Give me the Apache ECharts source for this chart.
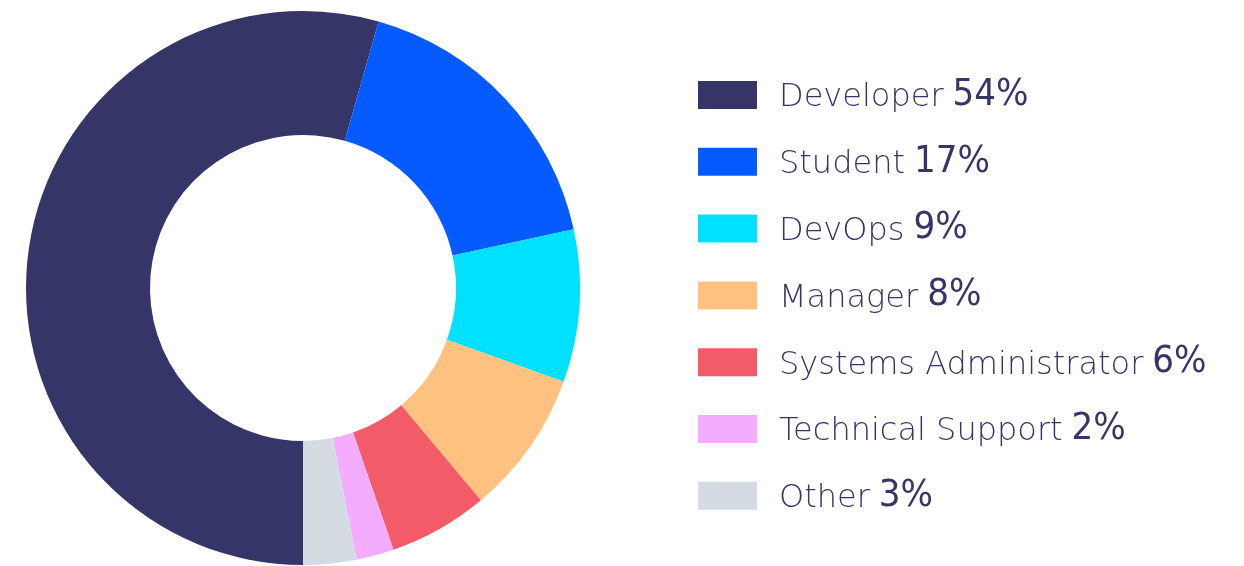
<!DOCTYPE html>
<html>
<head>
<meta charset="utf-8">
<script src="https://cdn.jsdelivr.net/npm/echarts@6/dist/echarts.min.js"></script>
<style>
html,body{margin:0;padding:0;background:#fff;}
#chart{width:1244px;height:566px;}
</style>
</head>
<body>
<div id="chart"></div>
<script>
const categories = ['Developer', 'Student', 'DevOps', 'Manager', 'Systems Administrator', 'Technical Support', 'Other'];
const values = [54.4, 17.2, 8.9, 8.4, 5.8, 2.2, 3.1];
const percentLabels = ['54%', '17%', '9%', '8%', '6%', '2%', '3%'];
const colors = ['#363567', '#055BFF', '#00E1FF', '#FFC17F', '#F45B69', '#F4ACFF', '#D4DBE2'];

const chart = echarts.init(document.getElementById('chart'));
chart.setOption({
  animation: false,
  color: colors,
  legend: {
    orient: 'vertical',
    left: 698,
    top: 76,
    padding: 0,
    icon: 'rect',
    itemWidth: 59,
    itemHeight: 28,
    itemGap: 28.8,
    selectedMode: false,
    formatter: function (name) {
      const i = categories.indexOf(name);
      return '{n|' + name + '}{p|' + percentLabels[i] + '}';
    },
    textStyle: {
      rich: {
        n: {
          fontFamily: '"DejaVu Sans"',
          fontWeight: 200,
          fontSize: 32,
          color: '#363567',
          padding: [0, 9, 0, 17],
          lineHeight: 38,
          verticalAlign: 'bottom'
        },
        p: {
          fontFamily: '"DejaVu Sans Condensed", "Liberation Sans Narrow", "DejaVu Sans"',
          fontSize: 38,
          color: '#363567',
          lineHeight: 38,
          verticalAlign: 'bottom'
        }
      }
    }
  },
  series: [{
    type: 'pie',
    center: [303, 288],
    radius: [153, 277],
    startAngle: -90,
    clockwise: true,
    label: { show: false },
    labelLine: { show: false },
    emphasis: { disabled: true },
    itemStyle: { borderWidth: 0 },
    data: categories.map((c, i) => ({ name: c, value: values[i] }))
  }]
});
</script>
</body>
</html>
